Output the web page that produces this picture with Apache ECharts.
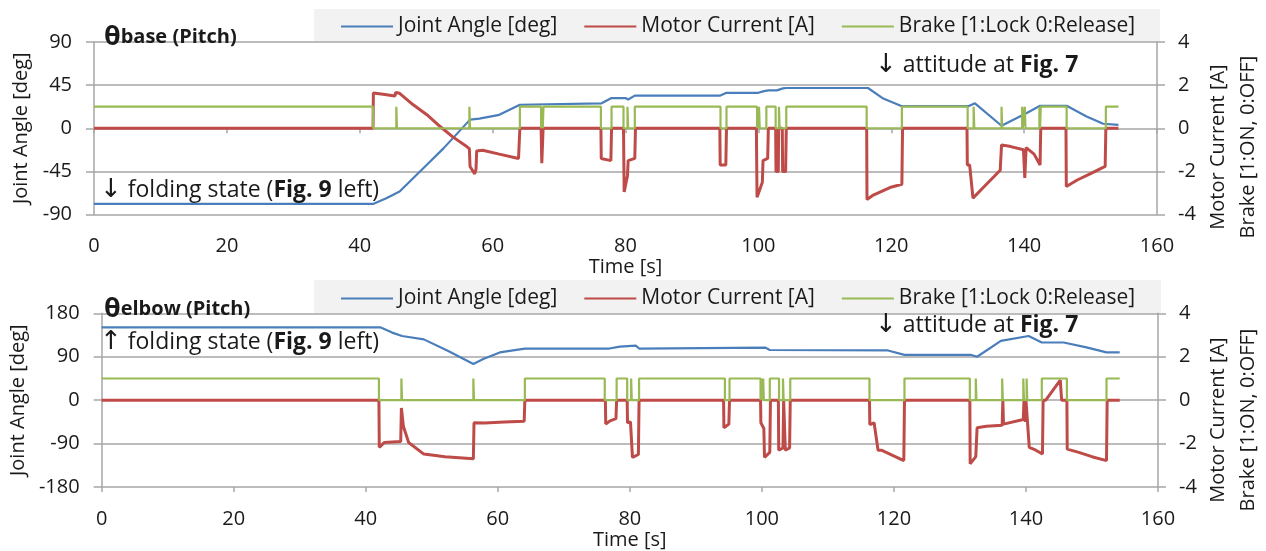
<!DOCTYPE html>
<html>
<head>
<meta charset="utf-8">
<script src="https://cdn.jsdelivr.net/npm/echarts/dist/echarts.min.js"></script>
<style>
  body { margin: 0; background: #fff; }
  #main { width: 1266px; height: 551px; }
</style>
</head>
<body>
<div id="main"></div>
<script>
// [time s, value]
var baseAngle = [[0,-79],[42,-79],[44,-73],[46,-66],[50.1,-38],[52.6,-21],[56.6,9],[58,10],[61,14],[64.1,24.5],
  [76.4,26],[77.9,31.5],[80,31.5],[80.4,30],[81.4,34],[94.2,34],[95.2,37],[100,37],[100.7,38.5],[101.5,39.5],
  [102.8,39.5],[103.7,41.6],[104.2,42],[116.5,42],[118.8,31],[121.6,23],[131.6,23],[132.6,26],[136.6,2.6],
  [140.4,16],[142.4,23.5],[146.4,23.5],[149.4,12.3],[151.9,4.7],[154.2,3.5]];

var baseCurrent = [[0,0],[42,0],[42.05,1.63],[43.5,1.58],[45.3,1.5],[45.4,1.66],[46,1.62],[48,1.1],[50.1,0.63],
  [52.1,0.08],[54,-0.4],[56.1,-0.85],[56.5,-0.95],[56.6,-1.77],[57.3,-2.12],[57.5,-1.9],[57.6,-1.05],[58.5,-1.02],
  [61,-1.2],[63.9,-1.4],[64.1,0],[67.3,0],[67.4,-1.62],[67.6,0],[76.3,0],[76.35,-1.4],[77.8,-1.5],[77.9,0],
  [79.7,0],[79.8,-2.95],[80.3,-2.2],[80.4,-1.5],[81.4,-1.4],[81.5,0],[94.2,0],[94.25,-1.7],[95.1,-1.7],[95.2,0],
  [99.7,0],[99.8,-3.2],[100.6,-2.5],[100.7,-1.5],[101.4,-1.4],[101.5,0],[102.6,0],[102.65,-2.0],[103.0,-2.0],
  [103.05,0],[103.6,0],[103.65,-2.0],[104.1,-2.0],[104.2,0],[116.3,0],[116.35,-3.3],[117.3,-3.1],[119.8,-2.75],
  [121.6,-2.6],[121.7,0],[131.4,0],[131.45,-1.7],[131.8,-1.7],[132.3,-3.24],[134,-2.7],[136.4,-1.95],
  [136.6,-0.77],[138,-0.85],[139.9,-1.0],[140.1,-2.3],[140.3,-0.9],[141.5,-1.2],[142.4,-1.7],[142.5,0],
  [146.3,0],[146.35,-2.7],[148,-2.4],[150,-2.1],[152.2,-1.77],[152.3,0],[154.2,0]];

var baseBrake = [[0,1],[42,1],[42,0],[45.5,0],[45.5,1],[45.6,1],[45.6,0],[56.5,0],[56.5,1],[56.6,1],[56.6,0],
  [64.1,0],[64.1,1],[67.3,1],[67.3,0],[67.4,0],[67.4,1],[67.55,1],[67.55,0],[67.65,0],[67.65,1],[76.3,1],[76.3,0],
  [77.9,0],[77.9,1],[79.7,1],[79.7,0],[80.3,0],[80.3,1],[80.4,1],[80.4,0],[81.4,0],[81.4,1],[94.3,1],[94.3,0],
  [95.2,0],[95.2,1],[99.8,1],[99.8,0],[99.9,0],[99.9,1],[100.0,1],[100.0,0],[100.1,0],[100.1,1],[100.2,1],
  [100.2,0],[101.2,0],[101.2,1],[102.6,1],[102.6,0],[103.1,0],[103.1,1],[103.2,1],[103.2,0],[104.2,0],[104.2,1],
  [116.3,1],[116.3,0],[121.6,0],[121.6,1],[131.5,1],[131.5,0],[132.4,0],[132.4,1],[132.5,1],[132.5,0],[136.6,0],
  [136.6,1],[136.7,1],[136.7,0],[139.7,0],[139.7,1],[139.8,1],[139.8,0],[140.1,0],[140.1,1],[140.2,1],[140.2,0],
  [142.3,0],[142.3,1],[142.4,1],[142.4,0],[142.5,0],[142.5,1],[146.4,1],[146.4,0],[152.3,0],[152.3,1],[154.2,1]];

var elbowAngle = [[0,151],[42.2,151],[44,140],[45.5,133],[48.8,126],[52.5,102],[56.3,75],[57.8,85.5],[60.3,99],
  [64.1,107],[76.9,107],[78.5,111],[80.9,113],[81.4,107],[100.5,109],[101.2,104],[119.1,103],[121.6,94],
  [131.6,94],[132.6,90],[136.2,123],[140.4,133],[142.4,119.5],[145.7,119.5],[149,110],[152.2,99],[154.2,99]];

var elbowCurrent = [[0,0],[42,0],[42.05,-2.17],[42.8,-1.95],[45.3,-1.9],[45.4,-0.36],[45.7,-1.2],[46.5,-1.95],
  [48.8,-2.48],[52,-2.6],[56.3,-2.7],[56.4,-1.04],[58,-1.05],[61,-1.0],[64,-0.97],[64.1,0],[76.3,0],[76.35,-1.1],
  [77,-0.95],[77.9,-0.85],[78.0,0],[79.6,0],[79.65,-1.04],[80.1,-1.0],[80.4,-2.63],[81.3,-2.5],[81.4,0],[94.2,0],
  [94.25,-1.27],[95.0,-1.1],[95.1,0],[99.8,0],[99.85,-1.04],[100.3,-1.3],[100.4,-2.63],[101.2,-2.4],[101.3,0],
  [102.5,0],[102.55,-2.3],[103.2,-2.2],[103.3,0],[103.5,0],[103.55,-2.3],[104.2,-2.2],[104.3,0],[116.3,0],
  [116.35,-1.12],[117.0,-1.04],[117.6,-2.3],[118.1,-2.3],[121.5,-2.78],[121.6,0],[131.5,0],[131.55,-2.93],
  [132.4,-2.6],[132.6,-1.27],[134,-1.2],[136.4,-1.15],[136.5,0],[136.6,-1.1],[139.6,-0.89],[139.7,0],[139.9,-1.0],
  [140.0,0],[140.3,0],[140.5,-2.17],[141.5,-2.3],[142.5,-2.48],[142.6,0],[143.0,0],[145.2,0.92],[145.4,0],
  [146.2,0],[146.25,-2.25],[148,-2.4],[150,-2.6],[152.2,-2.78],[152.3,0],[154.2,0]];

var elbowBrake = [[0,1],[42,1],[42,0],[45.4,0],[45.4,1],[45.5,1],[45.5,0],[56.3,0],[56.3,1],[56.4,1],[56.4,0],
  [64.1,0],[64.1,1],[76.2,1],[76.2,0],[78.0,0],[78.0,1],[79.6,1],[79.6,0],[80.2,0],[80.2,1],[80.3,1],[80.3,0],
  [81.4,0],[81.4,1],[94.4,1],[94.4,0],[95.1,0],[95.1,1],[99.8,1],[99.8,0],[99.9,0],[99.9,1],[100.0,1],[100.0,0],
  [100.2,0],[100.2,1],[100.3,1],[100.3,0],[101.2,0],[101.2,1],[102.6,1],[102.6,0],[103.2,0],[103.2,1],[103.3,1],
  [103.3,0],[104.3,0],[104.3,1],[116.3,1],[116.3,0],[121.6,0],[121.6,1],[131.5,1],[131.5,0],[132.4,0],[132.4,1],
  [132.5,1],[132.5,0],[136.4,0],[136.4,1],[136.5,1],[136.5,0],[139.6,0],[139.6,1],[139.7,1],[139.7,0],[140.1,0],
  [140.1,1],[140.2,1],[140.2,0],[142.4,0],[142.4,1],[146.2,1],[146.2,0],[152.2,0],[152.2,1],[154.2,1]];

var seriesNames = ['Joint Angle [deg]', 'Motor Current [A]', 'Brake [1:Lock 0:Release]'];
var colors = ['#4a7ebb', '#be4b48', '#98b954'];

var font = 'Open Sans';
var txt = '#1a1a1a';
var gridGray = '#a6a6a6';

function timeAxes(grid, gap) {
  return [{
    gridIndex: grid, type: 'value', position: 'bottom', min: 0, max: 160, interval: 20,
    axisLine: { show: false, onZero: false }, axisTick: { show: false }, splitLine: { show: false },
    axisLabel: { fontFamily: font, fontSize: 20, color: txt, margin: 22 },
    name: 'Time [s]', nameLocation: 'middle', nameGap: gap,
    nameTextStyle: { fontFamily: font, fontSize: 20, color: txt }
  }, {
    // ticks sitting on the zero line
    gridIndex: grid, type: 'value', position: 'bottom', min: 0, max: 160, interval: 20,
    axisLine: { show: false, onZero: true, onZeroAxisIndex: 0 },
    axisTick: { show: true, length: 5, lineStyle: { color: gridGray, width: 1.5 } },
    axisLabel: { show: false }, splitLine: { show: false }
  }];
}

function angleAxis(grid, lim, step) {
  return {
    gridIndex: grid, type: 'value', position: 'left', min: -lim, max: lim, interval: step,
    axisLine: { show: true, onZero: false, lineStyle: { color: gridGray, width: 1.5 } },
    axisTick: { show: true, length: 8, lineStyle: { color: gridGray, width: 1.5 } },
    splitLine: { show: true, lineStyle: { color: gridGray, width: 1.5 } },
    axisLabel: { fontFamily: font, fontSize: 20, color: txt, margin: 22 },
    name: 'Joint Angle [deg]', nameLocation: 'middle', nameGap: 56,
    nameTextStyle: { fontFamily: font, fontSize: 20, color: txt }
  };
}

function currentAxis(grid) {
  return {
    gridIndex: grid, type: 'value', position: 'right', min: -4, max: 4, interval: 2,
    axisLine: { show: true, onZero: false, lineStyle: { color: gridGray, width: 1.5 } },
    axisTick: { show: true, length: 8, lineStyle: { color: gridGray, width: 1.5 } },
    splitLine: { show: false },
    axisLabel: { fontFamily: font, fontSize: 20, color: txt, margin: 21 }
  };
}

function lines(grid, angle, current, brake) {
  var data = [angle, current, brake];
  var out = [];
  for (var i = 0; i < 3; i++) {
    out.push({
      name: seriesNames[i], type: 'line', xAxisIndex: grid * 2, yAxisIndex: grid * 2 + (i === 0 ? 0 : 1),
      data: data[i], showSymbol: false, symbol: 'none',
      lineStyle: { color: colors[i], width: i === 1 ? 3 : 2.2 },
      itemStyle: { color: colors[i] }
    });
  }
  return out;
}

function legendAt(top) {
  return {
    data: seriesNames, left: 341, top: top, padding: 0, itemGap: 27,
    itemWidth: 52, itemHeight: 2, icon: 'rect',
    textStyle: { fontFamily: font, fontSize: 21, color: txt }
  };
}

var noteRich = {
  a: { fontFamily: 'DejaVu Sans', fontSize: 26, color: txt },
  b: { fontFamily: font, fontSize: 23, fontWeight: 'bold', color: txt }
};

function note(text, left, top) {
  return {
    text: text, left: left, top: top, padding: 0,
    textStyle: { fontFamily: font, fontSize: 23, fontWeight: 'normal', color: txt, rich: noteRich }
  };
}

function plotTitle(sub, left, top) {
  return {
    text: '{t|θ}{s|' + sub + ' (Pitch)}', left: left, top: top, padding: 0,
    textStyle: {
      rich: {
        t: { fontFamily: font, fontSize: 27, fontWeight: 'bold', color: txt },
        s: { fontFamily: font, fontSize: 20, fontWeight: 'bold', color: txt }
      }
    }
  };
}

function sideName(x, y, text) {
  return {
    type: 'text', x: x, y: y, rotation: Math.PI / 2,
    style: { text: text, fontFamily: font, fontSize: 20, fill: txt, align: 'center', verticalAlign: 'middle' }
  };
}

var main = document.getElementById('main');
var myChart = echarts.init(main);

var option = {
  animation: false,
  backgroundColor: '#fff',
  title: [
    plotTitle('base', 104, 24),
    plotTitle('elbow', 104, 296),
    note('{a|↓} folding state ({b|Fig. 9} left)', 100, 177),
    note('{a|↓} attitude at {b|Fig. 7}', 875, 52),
    note('{a|↑} folding state ({b|Fig. 9} left)', 100, 329),
    note('{a|↓} attitude at {b|Fig. 7}', 875, 312)
  ],
  legend: [legendAt(16), legendAt(288)],
  graphic: [
    { type: 'rect', shape: { x: 314, y: 9, width: 846, height: 32 }, style: { fill: '#f2f2f2' }, z: -10 },
    { type: 'rect', shape: { x: 314, y: 280, width: 847, height: 33 }, style: { fill: '#f2f2f2' }, z: -10 },
    sideName(1218, 147, 'Motor Current [A]'),
    sideName(1248, 147, 'Brake [1:ON, 0:OFF]'),
    sideName(1218, 420, 'Motor Current [A]'),
    sideName(1248, 420, 'Brake [1:ON, 0:OFF]')
  ],
  grid: [
    { left: 94, right: 109, top: 42, height: 172.5 },
    { left: 96.5, right: 108, top: 313.3, height: 176.7 }
  ],
  xAxis: timeAxes(0, 32).concat(timeAxes(1, 36)),
  yAxis: [angleAxis(0, 90, 45), currentAxis(0), angleAxis(1, 180, 90), currentAxis(1)],
  series: lines(0, baseAngle, baseCurrent, baseBrake).concat(lines(1, elbowAngle, elbowCurrent, elbowBrake))
};
myChart.setOption(option);
</script>
</body>
</html>
